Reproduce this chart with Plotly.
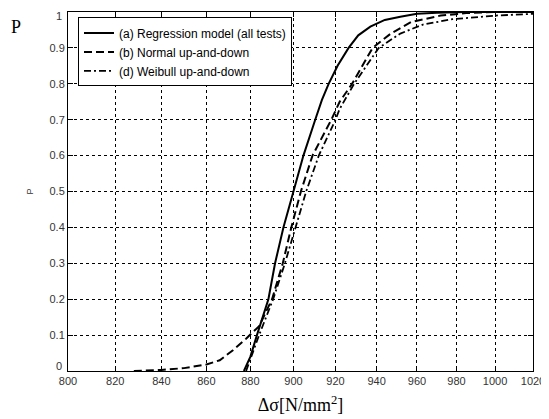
import math
import plotly.graph_objects as go

# ---- data ----
x_ticks = [800, 820, 840, 860, 880, 900, 920, 940, 960, 980, 1000, 1020]
y_ticks = [0, 0.1, 0.2, 0.3, 0.4, 0.5, 0.6, 0.7, 0.8, 0.9, 1]
y_tick_labels = ["0", "0.1", "0.2", "0.3", "0.4", "0.5", "0.6", "0.7", "0.8", "0.9", "1"]

reg_x = [877, 880, 883, 886, 888.3, 891.4, 895.3, 900, 904.7, 910.3, 913.5, 916.7, 921, 926.3, 931, 936.9, 944, 951.7, 960, 970, 985, 1020]
reg_p = [0, 0.04, 0.1, 0.16, 0.2, 0.3, 0.4, 0.5, 0.6, 0.7, 0.755, 0.8, 0.85, 0.9, 0.935, 0.959, 0.978, 0.987, 0.995, 0.998, 1.0, 1.0]

norm_x = [828, 840, 850, 860, 866, 872, 878, 884, 890, 895, 899, 903.5, 909, 918, 922, 928, 938, 947, 957, 972, 985, 1000, 1020]
norm_p = [0, 0.003, 0.008, 0.018, 0.03, 0.058, 0.09, 0.125, 0.2, 0.3, 0.4, 0.5, 0.6, 0.7, 0.75, 0.8, 0.9, 0.94, 0.972, 0.99, 0.997, 1.0, 1.0]

weib_x = [878, 881, 884, 890.5, 896, 901, 906, 912, 920, 922, 929, 941, 951.7, 963, 978, 1000, 1020]
weib_p = [0, 0.05, 0.1, 0.2, 0.3, 0.4, 0.5, 0.6, 0.7, 0.73, 0.8, 0.9, 0.94, 0.965, 0.98, 0.99, 0.995]

names = ["(a) Regression model (all tests)", "(b) Normal up-and-down", "(d) Weibull up-and-down"]

fig = go.Figure()
fig.add_trace(go.Scatter(x=reg_x, y=reg_p, mode="lines", name=names[0],
                         line=dict(color="black", width=2, dash="solid")))
fig.add_trace(go.Scatter(x=norm_x, y=norm_p, mode="lines", name=names[1],
                         line=dict(color="black", width=2, dash="8px,4px")))
fig.add_trace(go.Scatter(x=weib_x, y=weib_p, mode="lines", name=names[2],
                         line=dict(color="black", width=1.8, dash="7px,3px,2px,3px")))

tick_font = dict(family="Liberation Sans, Arial", size=11, color="#333333")

# end labels "0" and "1" are drawn as nudged annotations so they clear "800" and the page top
y_text = [""] + y_tick_labels[1:-1] + [""]

# The page body keeps the browser's default 8px margin, so the figure is sized
# 8px smaller and its margins shifted to land at the reference's pixel positions.
fig.update_layout(
    width=541, height=411,
    margin=dict(l=60, r=16, t=4, b=48, autoexpand=False),
    paper_bgcolor="white", plot_bgcolor="white",
    showlegend=True,
    legend=dict(x=0.0215, y=0.985, xanchor="left", yanchor="top",
                bgcolor="white", bordercolor="black", borderwidth=1,
                font=dict(family="Liberation Sans, Arial", size=12, color="black"),
                tracegroupgap=0, itemwidth=30),
    xaxis=dict(type="log", range=[math.log10(800), math.log10(1020)],
               tickmode="array", tickvals=x_ticks, ticktext=[str(v) for v in x_ticks],
               showline=True, linecolor="black", linewidth=1, mirror="allticks",
               ticks="inside", ticklen=5, tickcolor="black", automargin=False,
               ticklabeloverflow="allow",
               showgrid=True, gridcolor="black", gridwidth=1, griddash="dot",
               zeroline=False, tickfont=tick_font,
               title=dict(text="Δσ[N/mm<sup>2</sup>]",
                          font=dict(family="Liberation Serif, Times New Roman", size=18, color="black"),
                          standoff=12)),
    yaxis=dict(range=[0, 1], tickmode="array", tickvals=y_ticks, ticktext=y_text,
               showline=True, linecolor="black", linewidth=1, mirror="allticks",
               ticks="inside", ticklen=5, tickcolor="black", automargin=False,
               showgrid=True, gridcolor="black", gridwidth=1, griddash="dot",
               zeroline=False, tickfont=tick_font,
               title=dict(text="P", font=dict(family="Liberation Sans, Arial", size=9, color="#333333"),
                          standoff=14)),
    annotations=[
        dict(text="P", xref="paper", yref="paper", x=-0.127, y=0.958,
             xanchor="left", yanchor="middle", showarrow=False,
             font=dict(family="Liberation Serif, Times New Roman", size=18, color="black")),
        dict(text=y_tick_labels[0], xref="paper", yref="y", x=0, y=y_ticks[0],
             xanchor="right", yanchor="middle", xshift=-4, yshift=5, showarrow=False,
             font=tick_font),
        dict(text=y_tick_labels[-1], xref="paper", yref="y", x=0, y=y_ticks[-1],
             xanchor="right", yanchor="top", xshift=-4, yshift=4, showarrow=False,
             font=tick_font),
    ],
)

fig.write_html("out.html")
